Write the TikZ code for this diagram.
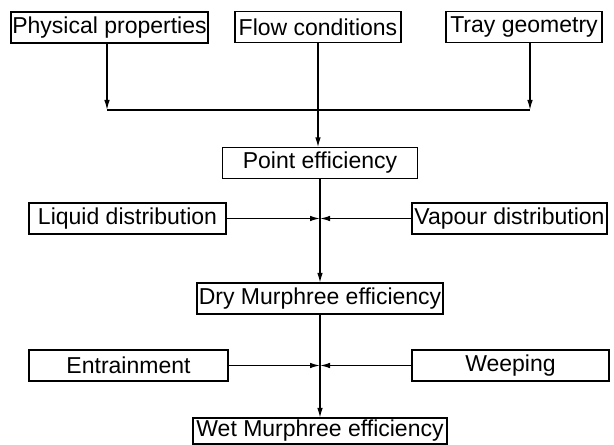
\documentclass[tikz,border=0pt]{standalone}
\usepackage{fontspec}
\setmainfont{Liberation Sans}
\usetikzlibrary{arrows.meta}
\begin{document}
\begin{tikzpicture}[x=1pt,y=1pt,
  box/.style={draw=black,line width=1.3pt,inner sep=0pt,outer sep=0pt,
    font=\fontsize{23}{26}\selectfont,minimum height=31pt},
  link/.style={draw=black,line width=1.2pt},
  tip/.style={link,-{Latex[length=10pt,width=5.5pt]}}]
\useasboundingbox[fill=white] (0,0) rectangle (614,445);

% inputs
\node[box,minimum width=197pt] (phys) at (109.5,417.5) {Physical properties};
\node[box,minimum width=166pt] (flow) at (318,418) {Flow conditions};
\node[box,minimum width=156pt] (tray) at (524,418) {Tray geometry};

% efficiencies
\node[box,minimum width=195pt] (point) at (320,282) {Point efficiency};
\node[box,minimum width=246pt] (dry) at (320,146.5) {Dry Murphree efficiency};
\node[box,minimum width=254pt,minimum height=26pt] (wet) at (320,14) {Wet Murphree efficiency};

% side effects
\node[box,minimum width=197pt] (liquid) at (127.5,226.5) {Liquid distribution};
\node[box,minimum width=195pt] (vapour) at (509.5,226.5) {Vapour distribution};
\node[box,minimum width=199pt] (entrain) at (128.5,79.5) {Entrainment};
\node[box,minimum width=197pt] (weep) at (510.5,79.5) {Weeping};

% joining line under the inputs
\coordinate (joinl) at (107,335);
\coordinate (joinr) at (530,335);
\draw[tip] (phys.south -| joinl) -- (joinl);
\draw[tip] (tray.south -| joinr) -- (joinr);
\draw[link] (joinl) -- (joinr);
\draw[tip,line width=1.5pt] (flow.south) -- (flow.south |- point.north);

% main column
\draw[tip,line width=1.5pt] (point.south) -- (dry.north);
\draw[tip,line width=1.5pt] (dry.south) -- (wet.north);
\draw[tip] (liquid.east) -- (liquid.east -| point.south);
\draw[tip] (vapour.west) -- (vapour.west -| point.south);
\draw[tip] (entrain.east) -- (entrain.east -| dry.south);
\draw[tip] (weep.west) -- (weep.west -| dry.south);
\end{tikzpicture}
\end{document}
